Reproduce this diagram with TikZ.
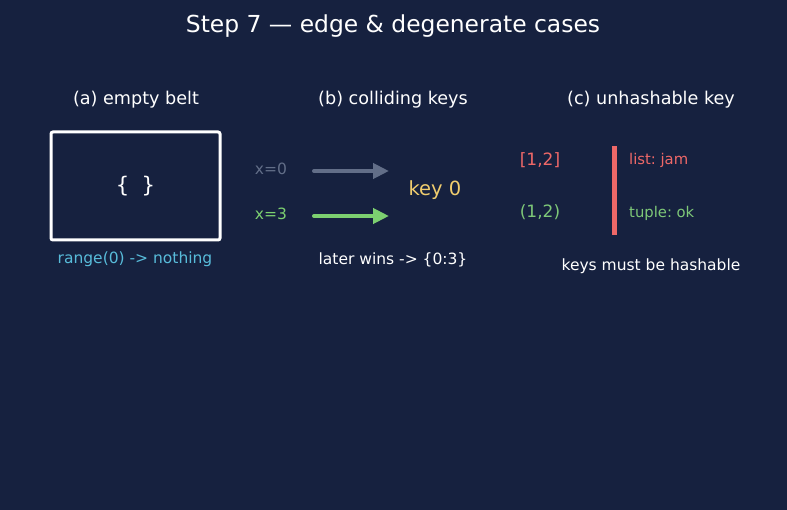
\documentclass[tikz,border=0pt]{standalone}
\usepackage{fontspec}
\setmainfont{DejaVu Sans}
\setmonofont{DejaVu Sans Mono}
\frenchspacing
\usetikzlibrary{shapes,arrows.meta}
\definecolor{bgnavy}{RGB}{22,33,63}
\definecolor{slategrey}{RGB}{98,110,136}
\definecolor{mintgreen}{RGB}{124,208,112}
\definecolor{softgreen}{RGB}{126,200,120}
\definecolor{coral}{RGB}{238,104,104}
\definecolor{skycyan}{RGB}{88,188,218}
\definecolor{honey}{RGB}{240,205,110}
\tikzstyle{titletext} = [text=white, font=\fontsize{23.4}{27}\selectfont]
\tikzstyle{headtext} = [text=white, font=\fontsize{17.6}{21}\selectfont]
\tikzstyle{smalltext} = [font=\fontsize{15.5}{18}\selectfont]
\tikzstyle{belt} = [rectangle, rounded corners=2pt, minimum width=169pt, minimum height=108pt, draw=white, line width=3pt]
\tikzstyle{arrow} = [line width=4pt, line cap=round, -{Triangle[length=16pt,width=15pt]}]

\begin{document}
\begin{tikzpicture}[x=1pt, y=-1pt]
        \fill [bgnavy] (0,0) rectangle (787,510);
        \useasboundingbox (0,0) rectangle (787,510);
        \node (title) [titletext] at (393,26) {Step 7 — edge \& degenerate cases};

        % (a) empty belt
        \node (heada) [headtext] at (136,100) {(a) empty belt};
        \node (emptybelt) [belt] at (135.5,186) {};
        \node (braces) [text=white, font=\ttfamily\fontsize{21.5}{24}\selectfont] at (emptybelt) {\{ \}};
        \node (rangenote) [smalltext, text=skycyan] at (135,259.5) {range(0) -> nothing};

        % (b) colliding keys
        \node (headb) [headtext] at (393,100) {(b) colliding keys};
        \node (xold) [smalltext, text=slategrey] at (271,168.5) {x=0};
        \node (xnew) [smalltext, text=mintgreen] at (271,213.5) {x=3};
        \node (keyzero) [text=honey, font=\fontsize{19.5}{22}\selectfont] at (435,190.5) {key 0};
        \coordinate (oldfrom) at (314,171);
        \coordinate (oldto) at (389,171);
        \coordinate (newfrom) at (314,216);
        \coordinate (newto) at (389,216);
        \draw [arrow, slategrey] (oldfrom) -- (oldto);
        \draw [arrow, mintgreen] (newfrom) -- (newto);
        \node (winsnote) [smalltext, text=white] at (393,259.5) {later wins -> \{0:3\}};

        % (c) unhashable key
        \node (headc) [headtext] at (651,100) {(c) unhashable key};
        \node (listkey) [text=coral, font=\fontsize{17}{20}\selectfont] at (540,160.5) {[1,2]};
        \node (tuplekey) [text=softgreen, font=\fontsize{17}{20}\selectfont] at (540,212.5) {(1,2)};
        \node (wall) [rectangle, fill=coral, minimum width=5pt, minimum height=89pt, inner sep=0pt] at (614,190.5) {};
        \node (listnote) [anchor=west, text=coral, font=\fontsize{14.8}{17}\selectfont, inner sep=0pt] at (629,160.5) {list: jam};
        \node (tuplenote) [anchor=west, text=softgreen, font=\fontsize{14.8}{17}\selectfont, inner sep=0pt] at (629,213.5) {tuple: ok};
        \node (hashnote) [smalltext, text=white] at (651,266.5) {keys must be hashable};
    \end{tikzpicture}
\end{document}
